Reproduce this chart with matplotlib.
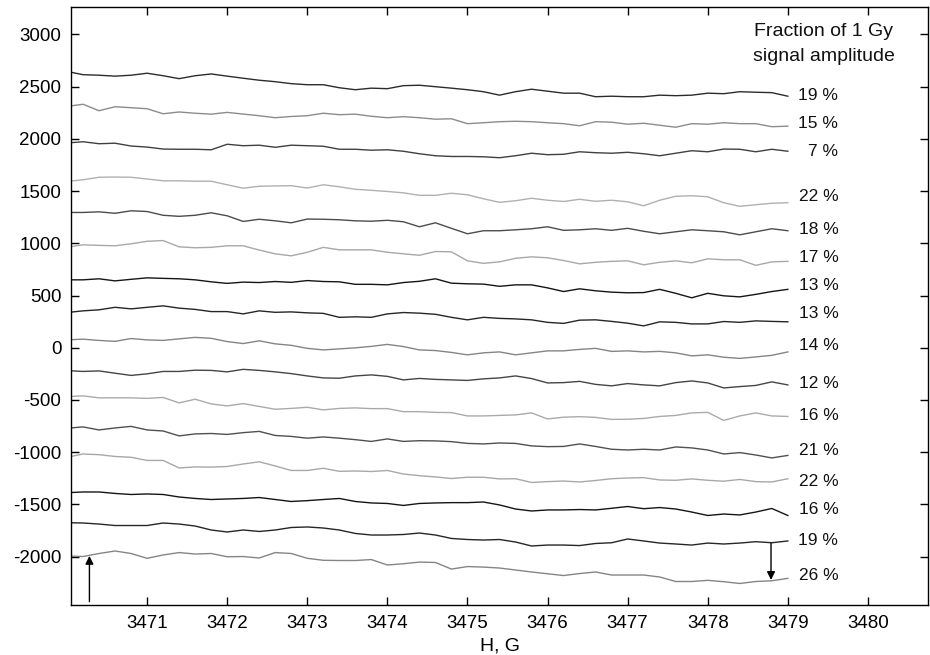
import numpy as np
import matplotlib
matplotlib.use('Agg')
import matplotlib.pyplot as plt

plt.rcParams['font.family'] = ['Liberation Sans', 'DejaVu Sans']
plt.rcParams['axes.unicode_minus'] = False

FIELD_START = 3470.0
FIELD_STEP = 0.2

# stacked spectra, top to bottom (offset arbitrary units)
sig_01 = [2645, 2614, 2609, 2600, 2609, 2628, 2604, 2576, 2604, 2621, 2600, 2580, 2561, 2547, 2528, 2518,
          2518, 2489, 2470, 2485, 2480, 2509, 2513, 2499, 2485, 2470, 2451, 2418, 2451, 2475, 2456, 2437,
          2437, 2403, 2408, 2403, 2403, 2418, 2413, 2418, 2437, 2432, 2451, 2446, 2442, 2408]
sig_02 = [2310, 2331, 2269, 2307, 2298, 2288, 2240, 2257, 2245, 2236, 2253, 2237, 2221, 2202, 2214, 2221,
          2245, 2231, 2236, 2216, 2202, 2212, 2202, 2188, 2192, 2145, 2154, 2164, 2168, 2164, 2154, 2145,
          2125, 2164, 2159, 2140, 2149, 2130, 2111, 2145, 2140, 2154, 2145, 2145, 2116, 2121]
sig_03 = [1960, 1972, 1953, 1958, 1931, 1921, 1902, 1900, 1900, 1895, 1948, 1934, 1939, 1919, 1939, 1934,
          1929, 1900, 1900, 1891, 1895, 1881, 1857, 1838, 1831, 1831, 1828, 1819, 1838, 1862, 1848, 1852,
          1876, 1867, 1862, 1871, 1857, 1838, 1862, 1886, 1876, 1902, 1900, 1876, 1900, 1881]
sig_04 = [1592, 1608, 1632, 1634, 1632, 1615, 1598, 1598, 1594, 1594, 1560, 1527, 1546, 1549, 1551, 1529,
          1560, 1541, 1517, 1507, 1496, 1483, 1459, 1459, 1479, 1464, 1426, 1392, 1407, 1431, 1412, 1400,
          1421, 1402, 1412, 1397, 1359, 1412, 1450, 1455, 1445, 1388, 1354, 1369, 1383, 1388]
sig_05 = [1295, 1295, 1301, 1287, 1311, 1304, 1268, 1258, 1268, 1292, 1263, 1209, 1230, 1215, 1196, 1232,
          1230, 1225, 1215, 1211, 1220, 1206, 1158, 1196, 1143, 1091, 1120, 1120, 1129, 1139, 1158, 1124,
          1129, 1139, 1124, 1143, 1115, 1091, 1110, 1129, 1120, 1110, 1081, 1110, 1139, 1120]
sig_06 = [963, 985, 980, 976, 995, 1019, 1026, 966, 957, 961, 976, 976, 935, 899, 880, 914,
          961, 937, 937, 937, 914, 899, 885, 921, 918, 832, 808, 822, 856, 870, 861, 835,
          803, 818, 827, 832, 794, 818, 832, 813, 851, 842, 842, 789, 822, 827]
sig_07 = [650, 650, 660, 640, 655, 669, 664, 660, 650, 631, 616, 628, 624, 634, 626, 643,
          634, 631, 607, 607, 602, 624, 636, 660, 618, 612, 609, 588, 602, 602, 573, 538,
          564, 545, 532, 526, 528, 559, 521, 478, 521, 497, 487, 511, 538, 559]
sig_08 = [337, 353, 363, 387, 372, 387, 401, 379, 367, 346, 346, 324, 353, 339, 343, 334,
          329, 291, 296, 291, 324, 337, 331, 320, 291, 267, 291, 281, 276, 267, 243, 233,
          264, 267, 252, 235, 209, 248, 243, 228, 228, 251, 243, 257, 252, 248]
sig_09 = [75, 82, 70, 61, 88, 75, 70, 85, 99, 90, 59, 40, 66, 37, 23, -6,
          -21, -11, -1, 13, 32, 11, -21, -27, -45, -68, -49, -40, -68, -49, -30, -30,
          -16, -6, -35, -30, -40, -35, -49, -78, -68, -91, -102, -88, -73, -40]
sig_10 = [-219, -227, -222, -244, -265, -250, -227, -227, -215, -217, -231, -207, -217, -231, -248, -270,
          -289, -292, -270, -260, -274, -308, -294, -303, -308, -313, -298, -289, -270, -295, -337, -334,
          -322, -351, -365, -343, -356, -365, -334, -318, -337, -385, -372, -361, -327, -356]
sig_11 = [-468, -461, -480, -480, -480, -485, -476, -528, -493, -538, -557, -535, -562, -589, -581, -570,
          -595, -581, -576, -583, -583, -612, -612, -619, -621, -653, -653, -648, -643, -624, -682, -665,
          -660, -667, -686, -685, -677, -658, -648, -624, -619, -696, -653, -624, -653, -658]
sig_12 = [-771, -758, -787, -768, -753, -787, -797, -844, -825, -821, -830, -813, -801, -840, -849, -866,
          -854, -866, -880, -897, -873, -897, -890, -892, -899, -916, -921, -912, -916, -940, -947, -945,
          -921, -945, -972, -979, -972, -979, -950, -959, -979, -1017, -1004, -1027, -1055, -1031]
sig_13 = [-1049, -1017, -1024, -1041, -1049, -1079, -1079, -1151, -1141, -1143, -1137, -1113, -1092, -1132,
          -1175, -1175, -1154, -1183, -1180, -1185, -1175, -1209, -1225, -1237, -1252, -1240, -1240, -1256,
          -1254, -1290, -1282, -1276, -1285, -1271, -1254, -1247, -1244, -1266, -1269, -1256, -1269, -1278,
          -1261, -1282, -1285, -1254]
sig_14 = [-1388, -1381, -1381, -1395, -1405, -1400, -1405, -1429, -1443, -1453, -1448, -1443, -1434, -1453,
          -1472, -1464, -1453, -1443, -1472, -1486, -1491, -1510, -1491, -1486, -1483, -1483, -1477, -1505,
          -1544, -1563, -1553, -1553, -1549, -1553, -1537, -1520, -1541, -1530, -1544, -1573, -1606, -1592,
          -1601, -1573, -1539, -1606]
sig_15 = [-1675, -1678, -1688, -1702, -1702, -1702, -1678, -1688, -1707, -1745, -1764, -1745, -1759, -1745,
          -1721, -1716, -1726, -1745, -1778, -1793, -1793, -1788, -1774, -1793, -1826, -1836, -1841, -1836,
          -1860, -1898, -1889, -1889, -1894, -1874, -1867, -1831, -1850, -1870, -1879, -1889, -1870, -1879,
          -1870, -1857, -1867, -1850]
sig_16 = [-1994, -1999, -1970, -1946, -1970, -2016, -1984, -1961, -1975, -1970, -2001, -1999, -2013, -1961,
          -1970, -2016, -2035, -2037, -2037, -2028, -2080, -2068, -2052, -2056, -2119, -2095, -2100, -2109,
          -2128, -2147, -2164, -2181, -2162, -2147, -2176, -2176, -2176, -2195, -2238, -2238, -2227, -2240,
          -2257, -2238, -2231, -2208]

signals = [sig_01, sig_02, sig_03, sig_04, sig_05, sig_06, sig_07, sig_08,
           sig_09, sig_10, sig_11, sig_12, sig_13, sig_14, sig_15, sig_16]

# fraction of the 1 Gy amplitude and where each label sits
fractions = ['19 %', '15 %', '7 %', '22 %', '18 %', '17 %', '13 %', '13 %',
             '14 %', '12 %', '16 %', '21 %', '22 %', '16 %', '19 %', '26 %']
label_y = [2416, 2151, 1879, 1448, 1129, 868, 595, 324,
           18, -340, -650, -985, -1276, -1547, -1841, -2176]

colors = ['#2c2c2c', '#8c8c8c', '#404040', '#b0b0b0', '#4c4c4c', '#a8a8a8', '#151515', '#262626',
          '#858585', '#454545', '#aaaaaa', '#505050', '#a8a8a8', '#151515', '#262626', '#858585']

fig = plt.figure(figsize=(9.3, 6.55), dpi=100)
ax = fig.add_axes([71 / 930, 1 - 605 / 655, 857 / 930, 598 / 655])

for sig, col in zip(signals, colors):
    field = FIELD_START + FIELD_STEP * np.arange(len(sig))
    ax.plot(field, sig, color=col, lw=1.0)

for txt, yy in zip(fractions, label_y):
    ax.text(3479.63, yy, txt, ha='right', va='center', fontsize=12.5, color='#111111')

ax.text(3479.45, 3026, 'Fraction of 1 Gy', ha='center', va='center', fontsize=14, color='#111111')
ax.text(3479.45, 2786, 'signal amplitude', ha='center', va='center', fontsize=14, color='#111111')

# arrows marking the signal positions
arrow = dict(arrowstyle='-|>', color='black', lw=1.0, mutation_scale=12, shrinkA=0, shrinkB=0)
ax.annotate('', xy=(3470.28, -1993), xytext=(3470.28, -2431), arrowprops=arrow)
ax.annotate('', xy=(3478.79, -2223), xytext=(3478.79, -1872), arrowprops=arrow)

ax.set_xlim(3470.05, 3480.75)
ax.set_ylim(-2463, 3262)
ax.set_xticks(range(3471, 3481))
ax.set_yticks(range(-2000, 3001, 500))
ax.tick_params(direction='in', length=6, width=1, labelsize=13.5, top=True, right=True, pad=7)
for s in ax.spines.values():
    s.set_linewidth(1.0)
ax.set_xlabel('H, G', fontsize=14, labelpad=4)

fig.savefig('out.png', dpi=100)
